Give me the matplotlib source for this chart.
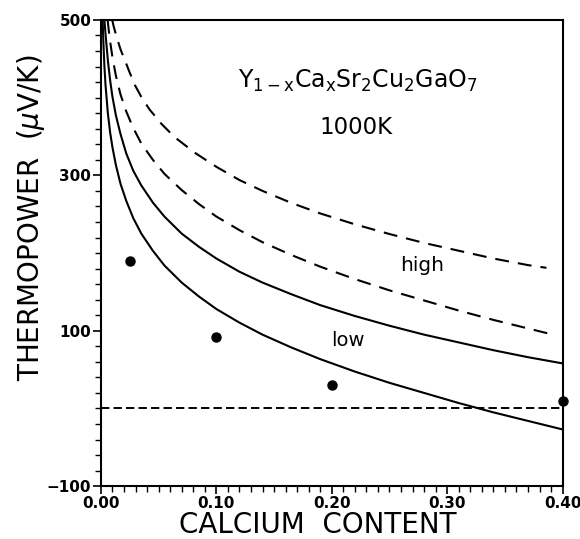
import numpy as np
import matplotlib
matplotlib.use("Agg")
import matplotlib.pyplot as plt
from matplotlib.ticker import MultipleLocator, FixedLocator

plt.rcParams['font.family'] = ['DejaVu Sans']
plt.rcParams['mathtext.fontset'] = 'dejavusans'
plt.rcParams['lines.scale_dashes'] = False

# Calculated thermopower at 1000 K: two "low" curves (solid), two "high" curves (dashed)
low_lower_x = [0.0015, 0.002, 0.003, 0.004, 0.006, 0.008, 0.010, 0.013, 0.017,
               0.022, 0.028, 0.035, 0.045, 0.055, 0.07, 0.085, 0.10, 0.12,
               0.14, 0.165, 0.19, 0.22, 0.25, 0.28, 0.31, 0.34, 0.37, 0.40]
low_lower_y = [500, 476, 441, 416, 380, 355, 336, 313, 289,
               267, 245, 225, 203, 184, 162, 144, 128, 110.5,
               95, 78.5, 63.5, 47.5, 33, 20, 7, -5, -16, -27]

low_upper_x = [0.003, 0.004, 0.006, 0.008, 0.010, 0.013, 0.017, 0.022, 0.028,
               0.035, 0.045, 0.055, 0.07, 0.085, 0.10, 0.12, 0.14, 0.165,
               0.19, 0.22, 0.25, 0.28, 0.31, 0.34, 0.37, 0.40]
low_upper_y = [500, 482, 448, 422, 401, 377, 353, 328, 306,
               287, 265, 247, 225, 208, 193, 176, 162, 147,
               133, 119, 106.5, 95, 85, 75, 66, 58]

high_lower_x = [0.0058, 0.007, 0.008, 0.010, 0.013, 0.017, 0.022, 0.028, 0.035,
                0.045, 0.055, 0.07, 0.085, 0.10, 0.12, 0.14, 0.165, 0.19,
                0.22, 0.25, 0.28, 0.31, 0.34, 0.37, 0.389]
high_lower_y = [500, 484, 472, 452, 428, 404, 382, 361, 341,
                320, 302, 281, 263, 247, 229.5, 214, 197.5, 182.5,
                166.5, 152, 139, 126, 114, 103, 96]

high_upper_x = [0.0098, 0.011, 0.0136, 0.017, 0.0208, 0.025, 0.0295, 0.035, 0.042,
                0.0526, 0.064, 0.0815, 0.10, 0.12, 0.14, 0.165, 0.19, 0.22,
                0.25, 0.28, 0.31, 0.34, 0.37, 0.386]
high_upper_y = [500, 492, 478, 462, 448, 432, 416, 401, 385,
                366, 349, 329, 311, 294, 280, 264.5, 251, 237,
                224.5, 213, 203, 193, 184.5, 181]

# Measured values
meas_x = [0.025, 0.10, 0.20, 0.40]
meas_y = [190, 92, 30, 9]

xticks = [0.0, 0.1, 0.2, 0.3, 0.4]
xticklabels = ['0.00', '0.10', '0.20', '0.30', '0.40']
yticks = [-100, 100, 300, 500]

fig = plt.figure(figsize=(5.8, 5.39), dpi=100)
ax = fig.add_axes([0.174, 0.098, 0.796, 0.865])

lw = 1.5
curve_dash = (0, (10, 6.5))
ax.plot(low_lower_x, low_lower_y, color='black', lw=lw)
ax.plot(low_upper_x, low_upper_y, color='black', lw=lw)
ax.plot(high_lower_x, high_lower_y, color='black', lw=lw, linestyle=curve_dash)
ax.plot(high_upper_x, high_upper_y, color='black', lw=lw, linestyle=curve_dash)
ax.plot([0, 0.4], [0, 0], color='black', lw=1.4, linestyle=(0, (6, 3)))
ax.plot(meas_x, meas_y, 'o', color='black', markersize=6.5, clip_on=False, zorder=5)

ax.set_xlim(0, 0.40)
ax.set_ylim(-100, 500)
ax.xaxis.set_major_locator(FixedLocator(xticks))
ax.set_xticklabels(xticklabels)
ax.xaxis.set_minor_locator(MultipleLocator(0.01))
ax.yaxis.set_major_locator(FixedLocator(yticks))
ax.yaxis.set_minor_locator(MultipleLocator(20))

ax.tick_params(axis='both', which='major', direction='out', length=6, width=1.2,
               labelsize=11, pad=1)
ax.tick_params(axis='both', which='minor', direction='out', length=4, width=1.0)
for lab in ax.get_xticklabels() + ax.get_yticklabels():
    lab.set_fontweight('bold')

for sp in ax.spines.values():
    sp.set_linewidth(1.5)

ax.set_xlabel('CALCIUM  CONTENT', fontsize=20)
ax.xaxis.label.set_va('center')
ax.xaxis.set_label_coords(0.47, -0.083)
ax.set_ylabel(r'THERMOPOWER  ($\mu$V/K)', fontsize=20)
ax.yaxis.label.set_va('center')
ax.yaxis.set_label_coords(-0.152, 0.575)

ax.text(0.2227, 421, r'$\mathrm{Y_{1-x}Ca_xSr_2Cu_2GaO_7}$', fontsize=17,
        ha='center', va='center')
ax.text(0.221, 362, '1000K', fontsize=16.5, ha='center', va='center')
ax.text(0.2786, 184, 'high', fontsize=14.5, ha='center', va='center')
ax.text(0.214, 88, 'low', fontsize=14, ha='center', va='center')

fig.savefig('out.png', dpi=100)
